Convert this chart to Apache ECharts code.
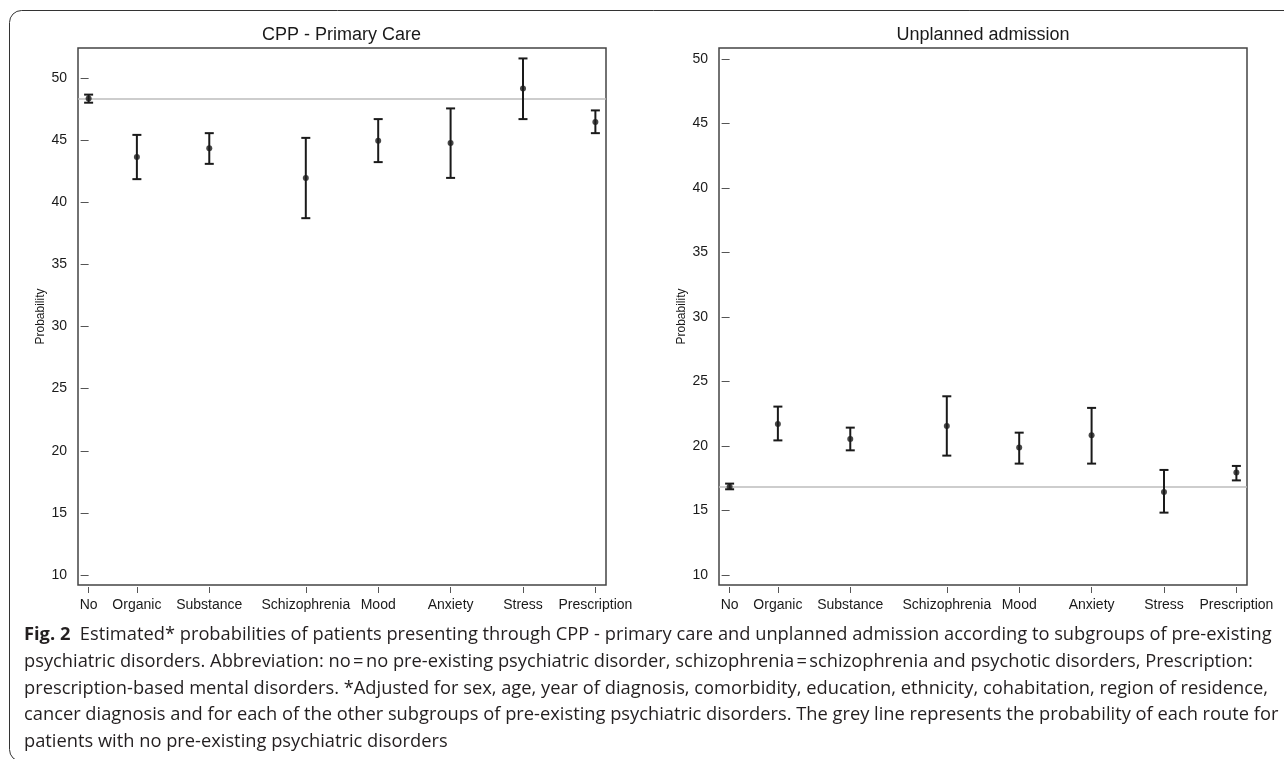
<!DOCTYPE html>
<html>
<head>
<meta charset="utf-8">
<script src="https://cdn.jsdelivr.net/npm/echarts@6/dist/echarts.min.js"></script>
<style>
html,body{margin:0;padding:0;background:#fff;}
#chart{width:1284px;height:759px;}
</style>
</head>
<body>
<div id="chart"></div>
<script>
// ---- data ----
const categories = ['No','Organic','Substance','Schizophrenia','Mood','Anxiety','Stress','Prescription'];
const catPos = [0, 1, 2.5, 4.5, 6, 7.5, 9, 10.5];
const yTicks = [10, 15, 20, 25, 30, 35, 40, 45, 50];

const ppcEst  = [48.33, 43.64, 44.34, 41.95, 44.93, 44.75, 49.15, 46.44];
const ppcLow  = [48.00, 41.85, 43.08, 38.71, 43.22, 41.95, 46.68, 45.55];
const ppcHigh = [48.65, 45.41, 45.55, 45.17, 46.68, 47.54, 51.56, 47.38];

const unpEst  = [16.84, 21.71, 20.54, 21.55, 19.87, 20.82, 16.43, 17.95];
const unpLow  = [16.64, 20.43, 19.66, 19.25, 18.63, 18.63, 14.83, 17.33];
const unpHigh = [17.08, 23.05, 21.42, 23.85, 21.03, 22.95, 18.14, 18.45];

const panelTitles = ['CPP - Primary Care', 'Unplanned admission'];
const captionLines = [
  '{b|Fig. 2}  Estimated* probabilities of patients presenting through CPP - primary care and unplanned admission according to subgroups of pre-existing',
  'psychiatric disorders. Abbreviation: no\u202F=\u202Fno pre-existing psychiatric disorder, schizophrenia\u202F=\u202Fschizophrenia and psychotic disorders, Prescription:',
  'prescription-based mental disorders. *Adjusted for sex, age, year of diagnosis, comorbidity, education, ethnicity, cohabitation, region of residence,',
  'cancer diagnosis and for each of the other subgroups of pre-existing psychiatric disorders. The grey line represents the probability of each route for',
  'patients with no pre-existing psychiatric disorders'
];

// ---- chart ----
const chart = echarts.init(document.getElementById('chart'), null, {renderer: 'canvas'});
const AX_FONT = 'Liberation Sans';
const INK = '#1a1a1a';

function xAxisDef(gi) {
  return {
    type: 'value', gridIndex: gi, min: -0.22, max: 10.72,
    offset: 2,
    axisLine: {show: false},
    splitLine: {show: false},
    axisTick: {show: true, length: 6, customValues: catPos, lineStyle: {color: '#555', width: 1}},
    axisLabel: {
      customValues: catPos, margin: 11, fontSize: 14, fontFamily: AX_FONT, color: INK,
      formatter: v => { const i = catPos.indexOf(v); return i >= 0 ? categories[i] : ''; }
    }
  };
}
function yAxisDef(gi, min, max) {
  return {
    type: 'value', gridIndex: gi, min: min, max: max,
    name: 'Probability', nameLocation: 'middle', nameGap: 31, nameRotate: 90,
    nameTextStyle: {fontSize: 12, fontFamily: AX_FONT, color: INK},
    axisLine: {show: false},
    splitLine: {show: false},
    axisTick: {show: true, length: 8, customValues: yTicks, lineStyle: {color: '#555', width: 1}},
    axisLabel: {customValues: yTicks, margin: 11, fontSize: 14, fontFamily: AX_FONT, color: INK}
  };
}

function errData(low, high) { return catPos.map((x, i) => [x, low[i], high[i]]); }
function ptData(est) { return catPos.map((x, i) => [x, est[i]]); }

function renderErr(params, api) {
  const x = api.value(0);
  const lo = api.coord([x, api.value(1)]);
  const hi = api.coord([x, api.value(2)]);
  const hw = 4.5;
  const st = {stroke: INK, lineWidth: 2};
  return {
    type: 'group',
    children: [
      {type: 'line', shape: {x1: lo[0], y1: lo[1], x2: hi[0], y2: hi[1]}, style: st},
      {type: 'line', shape: {x1: hi[0] - hw, y1: hi[1], x2: hi[0] + hw, y2: hi[1]}, style: st},
      {type: 'line', shape: {x1: lo[0] - hw, y1: lo[1], x2: lo[0] + hw, y2: lo[1]}, style: st}
    ]
  };
}

function panelSeries(gi, est, low, high) {
  return [
    {
      type: 'custom', xAxisIndex: gi, yAxisIndex: gi, renderItem: renderErr,
      data: errData(low, high), z: 3, silent: true,
      encode: {x: 0, y: [1, 2]}
    },
    {
      type: 'scatter', xAxisIndex: gi, yAxisIndex: gi, data: ptData(est),
      symbol: 'circle', symbolSize: 6, itemStyle: {color: INK}, z: 4, silent: true,
      markLine: {
        silent: true, symbol: ['none', 'none'], animation: false,
        label: {show: false},
        lineStyle: {color: '#bdbdbd', width: 1.5, type: 'solid'},
        data: [{yAxis: est[0]}],
        z: 1
      }
    }
  ];
}

const graphics = [
  {type: 'rect', shape: {x: 9.5, y: 10.5, width: 1400, height: 751, r: 12},
   style: {fill: 'none', stroke: '#333', lineWidth: 1}, silent: true, z: 0},
  {type: 'text', x: 341.5, y: 35, style: {text: panelTitles[0], fontSize: 18, fontFamily: AX_FONT, fill: INK, align: 'center', verticalAlign: 'middle'}},
  {type: 'text', x: 983, y: 35, style: {text: panelTitles[1], fontSize: 18, fontFamily: AX_FONT, fill: INK, align: 'center', verticalAlign: 'middle'}}
];
const capY = [636, 662.7, 689.3, 716, 742.7];
const CAP_FONT = 'Open Sans';
const CAP_SIZE = 18.3;
captionLines.forEach((t, i) => {
  graphics.push({
    type: 'text', x: 24, y: capY[i] - 1,
    style: {
      text: t, fontSize: CAP_SIZE, fontFamily: CAP_FONT, fill: '#231f20',
      align: 'left', verticalAlign: 'middle',
      rich: {b: {fontWeight: 'bold', fontSize: CAP_SIZE, fontFamily: CAP_FONT, fill: '#231f20'}}
    }
  });
});

chart.setOption({
  animation: false,
  backgroundColor: '#fff',
  grid: [
    {left: 78, top: 48, width: 528, height: 537, show: true, borderColor: '#444', borderWidth: 1.5, backgroundColor: 'transparent'},
    {left: 719, top: 48, width: 528, height: 537, show: true, borderColor: '#444', borderWidth: 1.5, backgroundColor: 'transparent'}
  ],
  xAxis: [xAxisDef(0), xAxisDef(1)],
  yAxis: [yAxisDef(0, 9.2, 52.4), yAxisDef(1, 9.22, 50.85)],
  series: [].concat(panelSeries(0, ppcEst, ppcLow, ppcHigh), panelSeries(1, unpEst, unpLow, unpHigh)),
  graphic: graphics
});
</script>
</body>
</html>
